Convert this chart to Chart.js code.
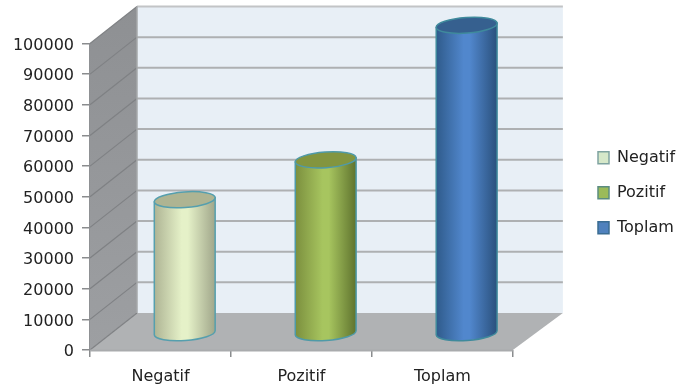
<!DOCTYPE html>
<html>
<head>
<meta charset="utf-8">
<style>
  html, body { margin: 0; padding: 0; background: #fff; }
  #wrap { width: 676px; height: 388px; }
</style>
<script src="https://cdn.jsdelivr.net/npm/chart.js@4/dist/chart.umd.min.js"></script>
</head>
<body>
<div id="wrap"><canvas id="c" width="676" height="388"></canvas></div>
<script>
const categories = ['Negatif', 'Pozitif', 'Toplam'];
const negatif = [43000, null, null];
const pozitif = [null, 56000, null];
const toplam = [null, null, 99900];
const axisMax = 100000;
const axisStep = 10000;

// Box depth of the 3D frame, in pixels
const depthLeft = 47, depthRight = 50, depthUp = 37;

// Cylinder shading: edge, highlight, far edge, cap
const shades = [
  { stops: ['#aeb494', '#e5f1c8', '#a0a68a'], cap: '#aeb492', line: '#559fae' },
  { stops: ['#7b8f3e', '#a7c55f', '#5f732e'], cap: '#83953f', line: '#4f9aa8' },
  { stops: ['#2f5b8b', '#5187cd', '#2a507c'], cap: '#36608f', line: '#3f8a9c' }
];

// Walls, floor and back-wall gridlines, all hung on the value scale
const frame3d = {
  id: 'frame3d',
  beforeDatasetsDraw(chart) {
    const { ctx, chartArea: a, scales: { y } } = chart;
    const backL = a.left + depthLeft, backR = a.right + depthRight;
    ctx.save();

    ctx.fillStyle = '#e8eff6';
    ctx.fillRect(backL, a.top - depthUp, backR - backL, a.bottom - a.top);

    const side = ctx.createLinearGradient(0, a.top - depthUp, 0, a.bottom);
    side.addColorStop(0, '#8e9093');
    side.addColorStop(1, '#9d9fa2');
    ctx.fillStyle = side;
    ctx.beginPath();
    ctx.moveTo(a.left, a.top);
    ctx.lineTo(backL, a.top - depthUp);
    ctx.lineTo(backL, a.bottom - depthUp);
    ctx.lineTo(a.left, a.bottom);
    ctx.closePath();
    ctx.fill();

    ctx.fillStyle = '#b0b2b4';
    ctx.beginPath();
    ctx.moveTo(a.left, a.bottom);
    ctx.lineTo(backL, a.bottom - depthUp);
    ctx.lineTo(backR, a.bottom - depthUp);
    ctx.lineTo(a.right, a.bottom);
    ctx.closePath();
    ctx.fill();

    y.ticks.forEach(t => {
      const py = y.getPixelForValue(t.value);
      if (t.value > 0) {
        ctx.strokeStyle = t.value === axisMax ? '#c2c4c6' : '#aeb0b2';
        ctx.lineWidth = 2;
        ctx.beginPath();
        ctx.moveTo(backL, py - depthUp);
        ctx.lineTo(backR, py - depthUp);
        ctx.stroke();
      }
      ctx.strokeStyle = '#7f8184';
      ctx.lineWidth = 1.2;
      ctx.beginPath();
      ctx.moveTo(a.left, py);
      ctx.lineTo(backL, py - depthUp);
      ctx.stroke();
    });

    ctx.strokeStyle = '#a6a8aa';
    ctx.lineWidth = 1.5;
    ctx.beginPath();
    ctx.moveTo(backL, a.top - depthUp);
    ctx.lineTo(backL, a.bottom - depthUp);
    ctx.stroke();

    // Front edge of the floor
    ctx.strokeStyle = '#a9abad';
    ctx.lineWidth = 2;
    ctx.beginPath();
    ctx.moveTo(a.left, a.bottom + 0.5);
    ctx.lineTo(a.right, a.bottom + 0.5);
    ctx.stroke();
    ctx.restore();
  },
  // Each bar element is painted as a cylinder standing mid-depth on the floor
  beforeDatasetDraw(chart, args) {
    const { ctx } = chart;
    const shade = shades[args.index];
    const rx = 30.5, ry = 7.8, tilt = -0.07;
    args.meta.data.forEach((bar, i) => {
      if (chart.data.datasets[args.index].data[i] === null) return;
      const cx = bar.x + (depthLeft + depthRight) / 4;
      const topY = bar.y - depthUp / 2;
      const baseY = bar.base - depthUp / 2 + 2;
      const ex = rx * Math.cos(tilt), ey = rx * Math.sin(tilt);

      const g = ctx.createLinearGradient(cx - rx, 0, cx + rx, 0);
      g.addColorStop(0, shade.stops[0]);
      g.addColorStop(0.45, shade.stops[1]);
      g.addColorStop(0.55, shade.stops[1]);
      g.addColorStop(1, shade.stops[2]);

      ctx.save();
      ctx.lineWidth = 1.5;
      ctx.strokeStyle = shade.line;
      ctx.fillStyle = g;
      ctx.beginPath();
      ctx.moveTo(cx - ex, topY - ey);
      ctx.ellipse(cx, baseY, rx, ry, tilt, Math.PI, 0, true);
      ctx.lineTo(cx + ex, topY + ey);
      ctx.closePath();
      ctx.fill();
      ctx.stroke();

      ctx.fillStyle = shade.cap;
      ctx.beginPath();
      ctx.ellipse(cx, topY, rx, ry, tilt, 0, Math.PI * 2);
      ctx.fill();
      ctx.stroke();
      ctx.restore();
    });
    return false;
  },
  // The legend sits in the far right margin, centred on the frame
  afterLayout(chart) {
    const l = chart.legend;
    const w = l.right - l.left;
    l.left = 579;
    l.right = 579 + w;
    l.top -= 23;
    l.bottom -= 23;
  }
};

const barData = (label, data, color, border) => ({
  label, data,
  backgroundColor: color,
  borderColor: border,
  borderWidth: 1.5,
  barThickness: 61
});

new Chart(document.getElementById('c'), {
  type: 'bar',
  data: {
    labels: categories,
    datasets: [
      barData('Negatif', negatif, '#d6e8c9', '#7fa3a0'),
      barData('Pozitif', pozitif, '#9bbb59', '#5b8c80'),
      barData('Toplam', toplam, '#4f81bd', '#3a6c92')
    ]
  },
  plugins: [frame3d],
  options: {
    responsive: false,
    animation: false,
    layout: { padding: { top: 43.5, right: 57, bottom: 0, left: 0 } },
    font: { family: '"DejaVu Sans"' },
    plugins: {
      title: { display: false },
      tooltip: { enabled: false },
      legend: {
        position: 'right',
        labels: {
          color: '#222',
          boxWidth: 11,
          boxHeight: 12,
          padding: 19,
          font: { family: '"DejaVu Sans"', size: 16 }
        }
      }
    },
    scales: {
      x: {
        stacked: true,
        afterFit(s) { s.height = 38; },
        grid: { drawOnChartArea: false, color: '#8a8c8e', lineWidth: 1.5, tickLength: 7 },
        border: { display: false },
        ticks: {
          color: '#222',
          padding: 10,
          maxRotation: 0,
          font: { family: '"DejaVu Sans"', size: 16 }
        }
      },
      y: {
        stacked: true,
        min: 0,
        max: axisMax,
        afterFit(s) { s.width = 90; },
        grid: { drawOnChartArea: false, color: '#8a8c8e', lineWidth: 1.5, tickLength: 8 },
        border: { color: '#8f9194', width: 1.5 },
        ticks: {
          stepSize: axisStep,
          color: '#222',
          padding: 8,
          labelOffset: 2,
          callback: v => String(v),
          font: { family: '"DejaVu Sans"', size: 16 }
        }
      }
    }
  }
});
</script>
</body>
</html>
